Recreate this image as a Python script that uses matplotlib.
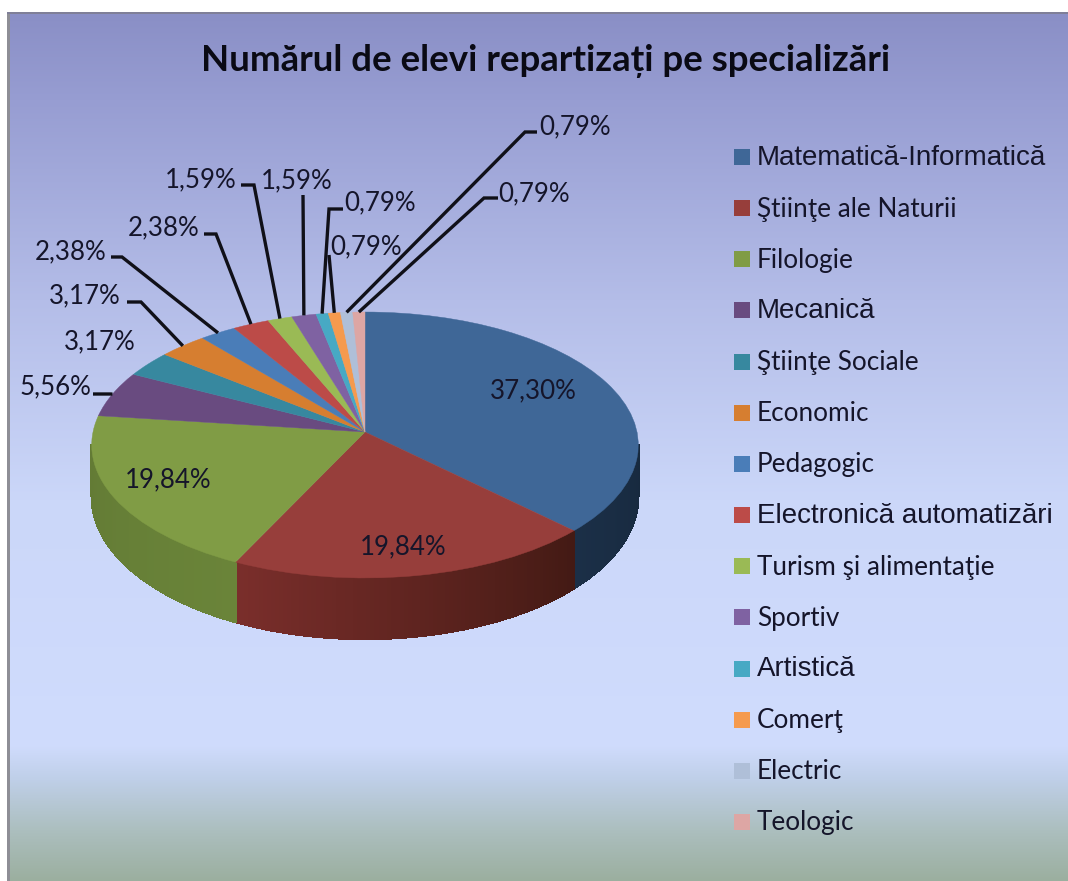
import matplotlib
matplotlib.use('Agg')

import matplotlib.pyplot as plt
from matplotlib.collections import PolyCollection
from matplotlib.colors import to_rgb
from matplotlib.transforms import Transform
import numpy as np

title = 'Numărul de elevi repartizați pe specializări'
categories = ['Matematică-Informatică', 'Ştiinţe ale Naturii', 'Filologie', 'Mecanică',
              'Ştiinţe Sociale', 'Economic', 'Pedagogic', 'Electronică automatizări',
              'Turism şi alimentaţie', 'Sportiv', 'Artistică', 'Comerţ', 'Electric', 'Teologic']
values = [37.30, 19.84, 19.84, 5.56, 3.17, 3.17, 2.38, 2.38, 1.59, 1.59, 0.79, 0.79, 0.79, 0.79]
colors = ['#3F6797', '#973E3B', '#809C45', '#694B80', '#37889F', '#D67E30', '#4A7DB8', '#BC4B48',
          '#9ABA55', '#7F62A2', '#47A9C4', '#F59A4E', '#AFBFD8', '#DDA6A4']
# categories drawn with the wider sans in the legend
arial_names = ['Matematică-Informatică', 'Mecanică', 'Electronică automatizări', 'Artistică']

# wall shading, left and right end of each visible slice
wall_colors = {0: ('#1B2F47', '#17293E'), 1: ('#7A2E2B', '#431A14'), 2: ('#637B35', '#6A8439')}

# label layout in pixels: text centre, then the leader elbow (None = label without leader)
label_xy = [(533, 391), (403, 547), (168, 480), (55, 387), (100, 342), (85, 296), (71, 252),
            (164, 228), (201, 180), (297, 181), (380, 203), (366, 247), (575, 127), (534, 194)]
leader_elbow = [None, None, None, [(93, 394), (111, 394)], None, [(127, 302), (141, 302)],
                [(111, 257), (122, 257)], [(204, 234), (216, 234)], [(241, 185), (254, 185)],
                [(303, 195)], [(343, 209), (329, 209)], [(329, 255)], [(537, 132), (525, 132)],
                [(498, 198), (484, 198)]]

bg_y = [14, 100, 300, 500, 745, 780, 830, 881]
bg_colors = ['#8A8FC6', '#979DD2', '#B4BDE8', '#CBD7F9', '#D0DCFD', '#BFCFE8', '#ACBFBF', '#9BAF9F']

plt.rcParams['font.family'] = ['Lato', 'DejaVu Sans']
TEXT = '#15152A'


class Perspective(Transform):
    # unit circle of the pie -> tilted disc, in pixels
    input_dims = 2
    output_dims = 2

    def transform_non_affine(self, xy):
        xy = np.asarray(xy)
        u, v = xy[:, 0], xy[:, 1]
        d = 1 + 0.0977 * v
        return np.column_stack((365 + 272 * u / d, (432 - 89.5 * v) / d))


fig = plt.figure(figsize=(10.68, 8.81), dpi=100, facecolor='white')
ax = fig.add_axes([0, 0, 1, 1])

wedges, _ = ax.pie(values, colors=colors, startangle=90, counterclock=False, radius=1)
persp = Perspective()
for w, c in zip(wedges, colors):
    w.set_transform(persp + ax.transData)
    w.set_edgecolor(c)
    w.set_linewidth(0.3)
    w.set_zorder(3)

ax.set_aspect('auto')
ax.set_xlim(0, 1068)
ax.set_ylim(881, 0)
ax.axis('off')

# background
ys = np.arange(14, 882)
rgb = np.array([to_rgb(c) for c in bg_colors])
grad = np.stack([np.interp(ys, bg_y, rgb[:, i]) for i in range(3)], axis=1)[:, None, :]
ax.imshow(grad, extent=(10, 1068, 881, 14), aspect='auto', zorder=0)
ax.fill_between([7, 10], 12, 881, color='#8E8E96', lw=0, zorder=1)
ax.fill_between([7, 1068], 12, 14, color='#7F7F98', lw=0, zorder=1)
ax.set_xlim(0, 1068)
ax.set_ylim(881, 0)

# side wall of the front half
fracs = np.array(values) / sum(values)
edges = np.concatenate(([0], np.cumsum(fracs))) * 2 * np.pi


def rim(theta):
    pts = persp.transform_non_affine(np.column_stack((np.sin(theta), np.cos(theta))))
    return pts, 50 + 11 * np.clip(-np.cos(theta), 0, 1)


front = (np.radians(95.6), np.radians(264.4))
for i, (left, right) in wall_colors.items():
    a0, a1 = max(edges[i], front[0]), min(edges[i + 1], front[1])
    th = np.linspace(a0, a1, 90)
    pts, depth = rim(th)
    quads = [[pts[k], pts[k + 1], pts[k + 1] + (0, depth[k + 1]), pts[k] + (0, depth[k])]
             for k in range(len(th) - 1)]
    # theta runs clockwise, so from the right end of the slice to the left end
    t = np.linspace(0, 1, len(quads))[:, None]
    shade = (1 - t) * np.array(to_rgb(right)) + t * np.array(to_rgb(left))
    ax.add_collection(PolyCollection(quads, facecolors=shade, edgecolors=shade, linewidths=1.0,
                                     antialiaseds=False, zorder=2))

# data labels and leaders
mids = (edges[:-1] + edges[1:]) / 2
for i, v in enumerate(values):
    txt = f'{v:.2f}'.replace('.', ',') + '%'
    ax.text(label_xy[i][0], label_xy[i][1], txt, fontsize=18.6, color=TEXT, ha='center', va='center', zorder=6)
    if leader_elbow[i] is not None:
        end, _ = rim(np.array([mids[i]]))
        path = leader_elbow[i] + [tuple(end[0])]
        ax.plot([p[0] for p in path], [p[1] for p in path], color='#101018', lw=2.4, zorder=5,
                solid_capstyle='butt', solid_joinstyle='miter')

# title and legend
ax.text(546, 61, title, fontsize=26.4, fontweight='bold', color='#0A0A14', ha='center', va='center', zorder=6)
for i, name in enumerate(categories):
    y = 157 + i * 51.15
    ax.fill_between([734, 750], y - 8, y + 8, color=colors[i], lw=0, zorder=4)
    if name in arial_names:
        ax.text(757, y + 1, name, fontsize=20, family=['Liberation Sans', 'DejaVu Sans'], color=TEXT, va='center', zorder=6)
    else:
        ax.text(757, y + 1, name, fontsize=18.8, color=TEXT, va='center', zorder=6)

fig.savefig('out.png', dpi=100, facecolor='white')
plt.clf()
